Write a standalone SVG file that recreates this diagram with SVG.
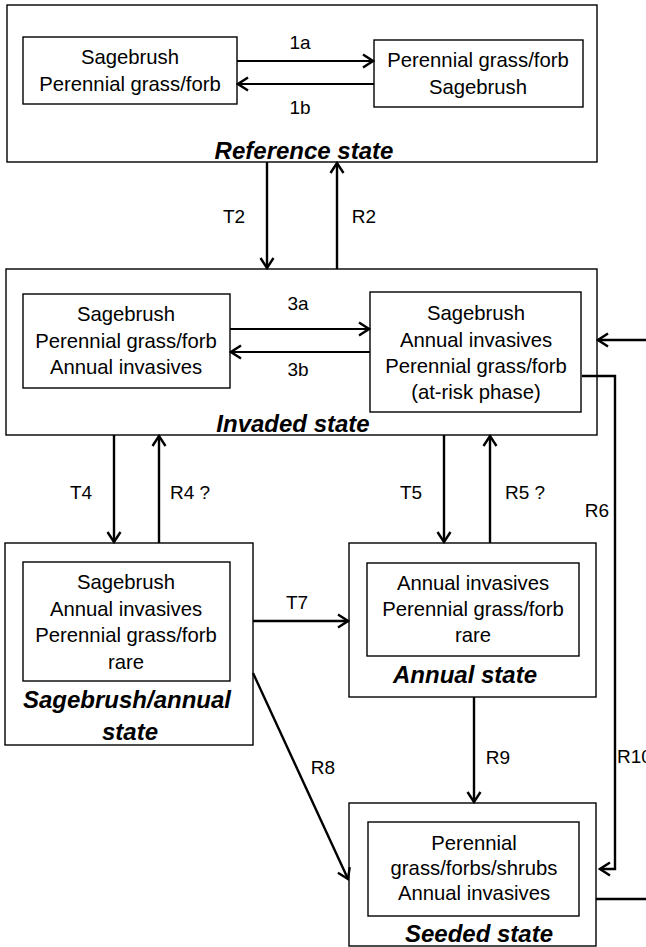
<svg xmlns="http://www.w3.org/2000/svg" width="646" height="947" viewBox="0 0 646 947">
<defs>
<style>
.box{fill:#fff;stroke:#000;stroke-width:1.4}
.t{font-family:"Liberation Sans",Arial,sans-serif;font-size:20.3px;fill:#000;text-anchor:middle}
.lb{font-family:"Liberation Sans",Arial,sans-serif;font-size:19px;fill:#000;text-anchor:middle}
.ti{font-family:"Liberation Sans",Arial,sans-serif;font-size:24px;font-weight:bold;font-style:italic;fill:#000;text-anchor:middle}
.c{fill:none;stroke:#000;stroke-width:2.4}
.c1{fill:none;stroke:#000;stroke-width:1.8}
</style>
<marker id="ah" viewBox="-12 -8 14 16" markerWidth="14" markerHeight="16" refX="0" refY="0" orient="auto" markerUnits="userSpaceOnUse">
<path d="M-10,-6.5 L0,0 L-10,6.5" fill="none" stroke="#000" stroke-width="2.4"/>
</marker>
</defs>
<rect width="646" height="947" fill="#fff"/>

<g id="reference">
<rect class="box" x="7" y="5" width="590" height="157"/>
<rect class="box" x="23" y="37" width="214" height="67"/>
<text class="t" x="130" y="64">Sagebrush</text>
<text class="t" x="130" y="91">Perennial grass/forb</text>
<rect class="box" x="374" y="40" width="209" height="67"/>
<text class="t" x="478" y="67">Perennial grass/forb</text>
<text class="t" x="478" y="94">Sagebrush</text>
<text class="ti" x="304" y="159">Reference state</text>
</g>

<g id="invaded">
<rect class="box" x="6" y="269" width="591" height="166"/>
<rect class="box" x="23" y="294" width="207" height="94"/>
<text class="t" x="126" y="321">Sagebrush</text>
<text class="t" x="126" y="348">Perennial grass/forb</text>
<text class="t" x="126" y="374">Annual invasives</text>
<rect class="box" x="370" y="292" width="211" height="120"/>
<text class="t" x="476" y="320">Sagebrush</text>
<text class="t" x="476" y="347">Annual invasives</text>
<text class="t" x="476" y="373">Perennial grass/forb</text>
<text class="t" x="476" y="399">(at-risk phase)</text>
<text class="ti" x="293" y="432">Invaded state</text>
</g>

<g id="sagebrush-annual">
<rect class="box" x="5" y="543" width="248" height="202"/>
<rect class="box" x="23" y="562" width="207" height="119"/>
<text class="t" x="126" y="589">Sagebrush</text>
<text class="t" x="126" y="616">Annual invasives</text>
<text class="t" x="126" y="642">Perennial grass/forb</text>
<text class="t" x="126" y="669">rare</text>
<text class="ti" x="127" y="708">Sagebrush/annual</text>
<text class="ti" x="130" y="740">state</text>
</g>

<g id="annual">
<rect class="box" x="349" y="543" width="247" height="154"/>
<rect class="box" x="367" y="563" width="212" height="93"/>
<text class="t" x="473" y="590">Annual invasives</text>
<text class="t" x="473" y="616">Perennial grass/forb</text>
<text class="t" x="473" y="642">rare</text>
<text class="ti" x="465" y="683">Annual state</text>
</g>

<g id="seeded">
<rect class="box" x="349" y="803" width="247" height="143"/>
<rect class="box" x="368" y="822" width="211" height="94"/>
<text class="t" x="474" y="850">Perennial</text>
<text class="t" x="474" y="875">grass/forbs/shrubs</text>
<text class="t" x="474" y="900">Annual invasives</text>
<text class="ti" x="479" y="942">Seeded state</text>
</g>

<g id="connectors">
<line class="c1" x1="237" y1="61" x2="373" y2="61" marker-end="url(#ah)"/>
<line class="c1" x1="374" y1="84" x2="238" y2="84" marker-end="url(#ah)"/>
<text class="lb" x="300" y="49">1a</text>
<text class="lb" x="300" y="114">1b</text>

<line class="c" x1="267" y1="162" x2="267" y2="268" marker-end="url(#ah)"/>
<line class="c" x1="337" y1="269" x2="337" y2="163" marker-end="url(#ah)"/>
<text class="lb" x="234" y="223">T2</text>
<text class="lb" x="364" y="223">R2</text>

<line class="c1" x1="230" y1="329" x2="369" y2="329" marker-end="url(#ah)"/>
<line class="c1" x1="370" y1="352" x2="231" y2="352" marker-end="url(#ah)"/>
<text class="lb" x="298" y="310">3a</text>
<text class="lb" x="298" y="376">3b</text>

<line class="c" x1="114" y1="435" x2="114" y2="542" marker-end="url(#ah)"/>
<line class="c" x1="159" y1="543" x2="159" y2="436" marker-end="url(#ah)"/>
<text class="lb" x="81" y="499">T4</text>
<text class="lb" x="190" y="499">R4 ?</text>

<line class="c" x1="444" y1="435" x2="444" y2="542" marker-end="url(#ah)"/>
<line class="c" x1="490" y1="543" x2="490" y2="436" marker-end="url(#ah)"/>
<text class="lb" x="411" y="499">T5</text>
<text class="lb" x="525" y="499">R5 ?</text>

<line class="c" x1="253" y1="621" x2="348" y2="621" marker-end="url(#ah)"/>
<text class="lb" x="297" y="609">T7</text>

<line class="c" x1="253" y1="673" x2="348" y2="879" marker-end="url(#ah)"/>
<text class="lb" x="323" y="774">R8</text>

<line class="c" x1="474" y1="697" x2="474" y2="802" marker-end="url(#ah)"/>
<text class="lb" x="498" y="764">R9</text>

<path class="c" d="M582,376 H615 V869 H600" marker-end="url(#ah)"/>
<text class="lb" x="597" y="517">R6</text>
<text class="lb" x="617" y="763" style="text-anchor:start">R10</text>

<path class="c" d="M596,899 H670 V340 H598" marker-end="url(#ah)"/>
</g>
</svg>
